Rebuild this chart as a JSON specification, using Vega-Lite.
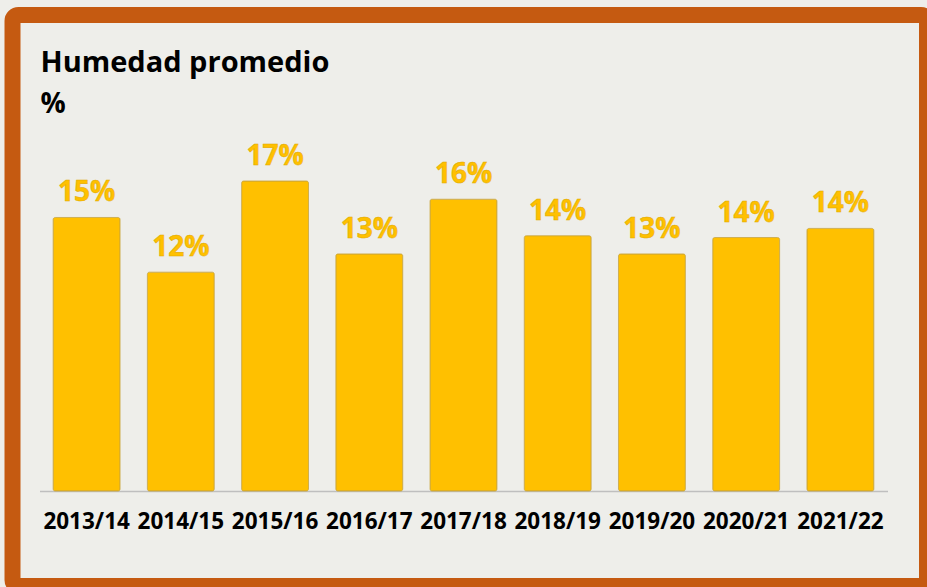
{
  "$schema": "https://vega.github.io/schema/vega-lite/v6.json",
  "autosize": "none",
  "width": 914.5,
  "height": 571,
  "padding": {"left": 12.5, "top": 15, "right": 0, "bottom": 1},
  "background": "#EEEEEA",
  "config": {
    "font": "Open Sans",
    "view": {"stroke": "#C55A11", "strokeWidth": 16, "fill": "#EEEEEA", "cornerRadius": 6}
  },
  "title": {
    "text": "Humedad promedio",
    "subtitle": "%",
    "anchor": "start",
    "frame": "group",
    "orient": "top",
    "offset": -104,
    "dx": 28,
    "font": "Open Sans",
    "fontSize": 29,
    "fontWeight": "bold",
    "color": "#000000",
    "subtitleFont": "Open Sans",
    "subtitleFontSize": 28,
    "subtitleFontWeight": "bold",
    "subtitleColor": "#000000",
    "subtitlePadding": 13
  },
  "data": {
    "values": [
      {"campana": "2013/14", "humedad": 0.150},
      {"campana": "2014/15", "humedad": 0.120},
      {"campana": "2015/16", "humedad": 0.170},
      {"campana": "2016/17", "humedad": 0.130},
      {"campana": "2017/18", "humedad": 0.160},
      {"campana": "2018/19", "humedad": 0.140},
      {"campana": "2019/20", "humedad": 0.130},
      {"campana": "2020/21", "humedad": 0.139},
      {"campana": "2021/22", "humedad": 0.144}
    ]
  },
  "encoding": {
    "x": {
      "field": "campana",
      "type": "nominal",
      "sort": null,
      "scale": {"range": [27, 875], "paddingInner": 0.29, "paddingOuter": 0.145},
      "axis": {
        "title": null,
        "orient": "bottom",
        "offset": -95,
        "ticks": false,
        "domainColor": "#BFBFBF",
        "domainWidth": 1.5,
        "labelAngle": 0,
        "labelFont": "Open Sans",
        "labelFontSize": 22.5,
        "labelFontWeight": "bold",
        "labelColor": "#000000",
        "labelPadding": 19
      }
    },
    "y": {
      "field": "humedad",
      "type": "quantitative",
      "scale": {"domain": [0, 0.17], "range": [476, 166], "nice": false},
      "axis": null
    }
  },
  "layer": [
    {
      "mark": {"type": "bar", "color": "#FFC000", "stroke": "#C9A53A", "strokeWidth": 0.8, "cornerRadius": 2}
    },
    {
      "mark": {
        "type": "text",
        "baseline": "alphabetic",
        "dy": -16,
        "font": "Open Sans",
        "fontSize": 28,
        "fontWeight": "bold",
        "fill": "#FFC000",
        "stroke": "#E0A800",
        "strokeWidth": 0.5
      },
      "encoding": {
        "text": {"field": "humedad", "type": "quantitative", "format": ".0%"}
      }
    }
  ]
}
